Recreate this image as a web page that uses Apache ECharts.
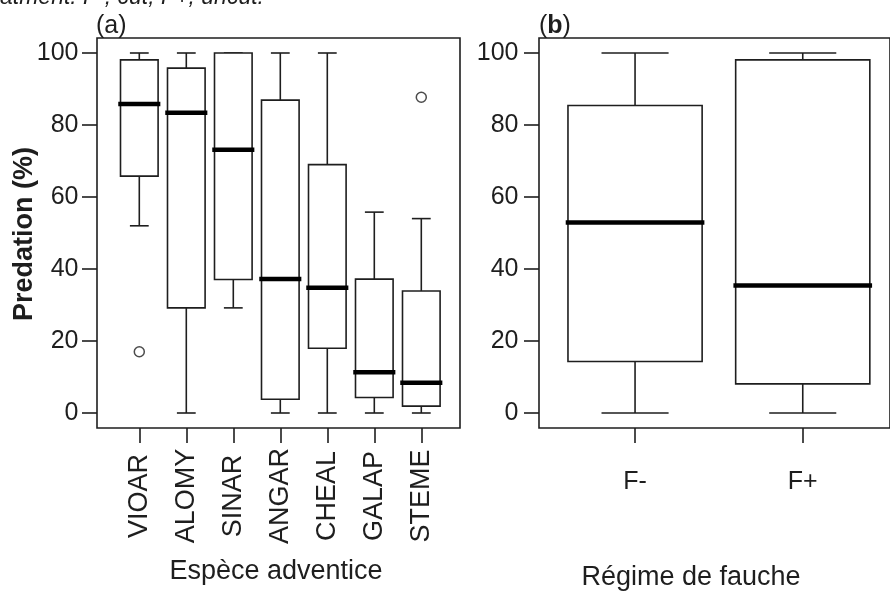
<!DOCTYPE html>
<html>
<head>
<meta charset="utf-8">
<script src="https://cdn.jsdelivr.net/npm/echarts@6/dist/echarts.min.js"></script>
<style>
html,body{margin:0;padding:0;background:#fff;}
#c{width:890px;height:591px;}
</style>
</head>
<body>
<div id="c"></div>
<script>
// ---- Data ----
const speciesCats = ['VIOAR', 'ALOMY', 'SINAR', 'ANGAR', 'CHEAL', 'GALAP', 'STEME'];
const speciesMin  = [52, 0, 29.2, 0, 0, 0, 0];
const speciesQ1   = [65.8, 29.2, 37.1, 3.8, 18.0, 4.3, 1.9];
const speciesMed  = [85.8, 83.4, 73.1, 37.2, 34.8, 11.3, 8.4];
const speciesQ3   = [98.1, 95.8, 100, 86.9, 69.0, 37.2, 33.9];
const speciesMax  = [100, 100, 100, 100, 100, 55.8, 54];
const speciesOutliers = [['VIOAR', 17], ['STEME', 87.7]];

const mowingCats = ['F-', 'F+'];
const mowingMin  = [0, 0];
const mowingQ1   = [14.3, 8.1];
const mowingMed  = [52.9, 35.4];
const mowingQ3   = [85.4, 98.1];
const mowingMax  = [100, 100];

const yMin = 0, yMax = 100, yStep = 20;

const INK = '#1e1e1e';
const FONT = '"Liberation Sans", Arial, sans-serif';

function boxData(cats, mn, q1, md, q3, mx) {
  return cats.map((c, i) => [i, mn[i], q1[i], md[i], q3[i], mx[i]]);
}

function renderBox(params, api) {
  const i = api.value(0);
  const vMin = api.value(1), vQ1 = api.value(2), vMed = api.value(3), vQ3 = api.value(4), vMax = api.value(5);
  const band = api.size([1, 0])[0];
  const pMin = api.coord([i, vMin]);
  const pQ1 = api.coord([i, vQ1]);
  const pMed = api.coord([i, vMed]);
  const pQ3 = api.coord([i, vQ3]);
  const pMax = api.coord([i, vMax]);
  const cx = pMed[0];
  const bw = band * 0.8;
  const cw = band * 0.4;
  const lineStyle = { stroke: INK, lineWidth: 1.6, fill: null };
  return {
    type: 'group',
    children: [
      { type: 'line', shape: { x1: cx, y1: pMax[1], x2: cx, y2: pQ3[1] }, style: lineStyle },
      { type: 'line', shape: { x1: cx, y1: pQ1[1], x2: cx, y2: pMin[1] }, style: lineStyle },
      { type: 'line', shape: { x1: cx - cw / 2, y1: pMax[1], x2: cx + cw / 2, y2: pMax[1] }, style: lineStyle },
      { type: 'line', shape: { x1: cx - cw / 2, y1: pMin[1], x2: cx + cw / 2, y2: pMin[1] }, style: lineStyle },
      { type: 'rect', shape: { x: cx - bw / 2, y: pQ3[1], width: bw, height: pQ1[1] - pQ3[1] },
        style: { stroke: INK, lineWidth: 1.6, fill: '#fff' } },
      { type: 'line', shape: { x1: cx - bw / 2, y1: pMed[1], x2: cx + bw / 2, y2: pMed[1] },
        style: { stroke: '#000', lineWidth: 4.5, lineCap: 'square' } }
    ]
  };
}

const chart = echarts.init(document.getElementById('c'), null, { renderer: 'canvas' });

const valueAxisCommon = (offset, margin) => ({
  type: 'value', min: yMin, max: yMax, interval: yStep,
  position: 'left', offset: offset,
  axisLine: { show: false, onZero: false },
  axisTick: { show: true, length: 15, lineStyle: { color: INK, width: 1.6 } },
  axisLabel: { color: INK, fontSize: 25, fontFamily: FONT, margin: margin },
  splitLine: { show: false }
});

const option = {
  animation: false,
  backgroundColor: '#fff',
  grid: [
    { left: 115.8, top: 53, width: 329, height: 360, show: false },
    { left: 551.2, top: 53, width: 335.4, height: 360, show: false },
    { left: 97, top: 38, width: 363, height: 390, show: true, borderColor: INK, borderWidth: 1.6, backgroundColor: 'transparent' },
    { left: 539, top: 38, width: 420, height: 390, show: true, borderColor: INK, borderWidth: 1.6, backgroundColor: 'transparent' }
  ],
  xAxis: [
    {
      gridIndex: 0, type: 'category', data: speciesCats, boundaryGap: true,
      position: 'bottom', offset: 15,
      axisLine: { show: false, onZero: false },
      axisTick: { show: true, alignWithLabel: true, length: 15, lineStyle: { color: INK, width: 1.6 } },
      axisLabel: { rotate: 90, align: 'center', margin: 68, color: INK, fontSize: 27, fontFamily: FONT, interval: 0 }
    },
    {
      gridIndex: 1, type: 'category', data: mowingCats, boundaryGap: true,
      position: 'bottom', offset: 15,
      axisLine: { show: false, onZero: false },
      axisTick: { show: true, alignWithLabel: true, length: 15, lineStyle: { color: INK, width: 1.6 } },
      axisLabel: { margin: 42, color: INK, fontSize: 25, fontFamily: FONT, interval: 0 }
    },
    { gridIndex: 2, type: 'value', show: false },
    { gridIndex: 3, type: 'value', show: false }
  ],
  yAxis: [
    Object.assign({ gridIndex: 0 }, valueAxisCommon(18.8, 18.5)),
    Object.assign({ gridIndex: 1 }, valueAxisCommon(12.2, 20.5)),
    { gridIndex: 2, type: 'value', show: false },
    { gridIndex: 3, type: 'value', show: false }
  ],
  series: [
    {
      type: 'custom', xAxisIndex: 0, yAxisIndex: 0, clip: false,
      renderItem: renderBox,
      encode: { x: 0, y: [1, 2, 3, 4, 5] },
      data: boxData(speciesCats, speciesMin, speciesQ1, speciesMed, speciesQ3, speciesMax)
    },
    {
      type: 'custom', xAxisIndex: 1, yAxisIndex: 1, clip: false,
      renderItem: renderBox,
      encode: { x: 0, y: [1, 2, 3, 4, 5] },
      data: boxData(mowingCats, mowingMin, mowingQ1, mowingMed, mowingQ3, mowingMax)
    },
    {
      type: 'scatter', xAxisIndex: 0, yAxisIndex: 0,
      symbol: 'circle', symbolSize: 10,
      itemStyle: { color: '#fff', borderColor: INK, borderWidth: 1.5 },
      data: speciesOutliers
    }
  ],
  graphic: [
    { type: 'text', x: 0, y: 9,
      style: { text: 'atment: F-, cut, F+, uncut.', fontSize: 23, fontStyle: 'italic', fontFamily: FONT, fill: INK,
               align: 'left', verticalAlign: 'bottom', textAlign: 'left', textVerticalAlign: 'bottom' } },
    { type: 'text', x: 96, y: 26,
      style: { text: '(a)', fontSize: 25, fontFamily: FONT, fill: INK,
               align: 'left', verticalAlign: 'middle', textAlign: 'left', textVerticalAlign: 'middle' } },
    { type: 'text', x: 539, y: 26,
      style: { text: '({b|b})', fontSize: 25, fontFamily: FONT, fill: INK,
               rich: { b: { fontWeight: 'bold', fontSize: 25, fontFamily: FONT, fill: INK } },
               align: 'left', verticalAlign: 'middle', textAlign: 'left', textVerticalAlign: 'middle' } },
    { type: 'text', x: 25, y: 234, rotation: Math.PI / 2,
      style: { text: 'Predation (%)', fontSize: 27, fontWeight: 'bold', fontFamily: FONT, fill: INK,
               align: 'center', verticalAlign: 'middle', textAlign: 'center', textVerticalAlign: 'middle' } },
    { type: 'text', x: 276, y: 572,
      style: { text: 'Espèce adventice', fontSize: 27, fontFamily: FONT, fill: INK,
               align: 'center', verticalAlign: 'middle', textAlign: 'center', textVerticalAlign: 'middle' } },
    { type: 'text', x: 691, y: 578,
      style: { text: 'Régime de fauche', fontSize: 27, fontFamily: FONT, fill: INK,
               align: 'center', verticalAlign: 'middle', textAlign: 'center', textVerticalAlign: 'middle' } }
  ]
};

chart.setOption(option);
</script>
</body>
</html>
